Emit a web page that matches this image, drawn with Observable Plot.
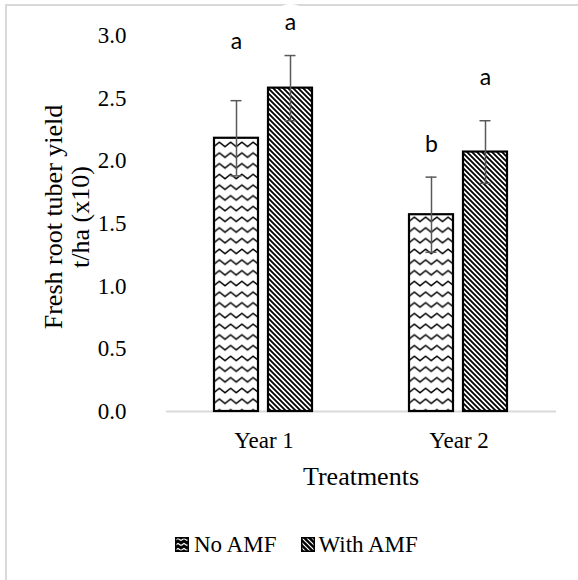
<!DOCTYPE html>
<html><head><meta charset="utf-8">
<script src="https://cdn.jsdelivr.net/npm/d3@7"></script>
<script src="https://cdn.jsdelivr.net/npm/@observablehq/plot@0.6"></script>
<style>
body{margin:0;background:#fff;}
#wrap{position:relative;width:578px;height:580px;overflow:hidden;font-family:"Liberation Serif","Times New Roman",serif;background:#fff;}
.bt{position:absolute;left:5px;top:4px;width:573px;height:2px;background:#d9d9d9;z-index:1;}
.bl{position:absolute;left:5px;top:4px;width:2px;height:576px;background:#d9d9d9;z-index:1;}
#chart{position:absolute;left:0;top:0;z-index:2;}
#legend{position:absolute;left:175px;top:533px;display:flex;align-items:center;font-family:"Liberation Serif",serif;font-size:23px;line-height:23px;color:#000;z-index:2;white-space:nowrap;}
#legend span{font-family:"Liberation Serif",serif;}
#legend svg{display:block;}
</style></head><body>
<svg width="0" height="0" style="position:absolute;left:0;top:0">
<defs>
<pattern id="wave" patternUnits="userSpaceOnUse" width="11.25" height="10.7">
<rect width="11.25" height="10.7" fill="#fff"/>
<path d="M-2.8,5.25L0,7.5L5.625,3L11.25,7.5L14,5.25" fill="none" stroke="#000" stroke-width="1.4"/>
</pattern>
<pattern id="diag" patternUnits="userSpaceOnUse" width="5" height="5">
<rect width="5" height="5" fill="#fff"/>
<path d="M-1,-1L6,6M-1,4L1,6M4,-1L6,1" stroke="#000" stroke-width="1.8"/>
</pattern>
<pattern id="waveS" patternUnits="userSpaceOnUse" width="6" height="5">
<rect width="6" height="5" fill="#000"/>
<path d="M0,3.5L3,1.5L6,3.5" fill="none" stroke="#fff" stroke-width="1.1"/>
</pattern>
<pattern id="diagS" patternUnits="userSpaceOnUse" width="5" height="5">
<rect width="5" height="5" fill="#000"/>
<path d="M-1,-1L6,6M-1,4L1,6M4,-1L6,1" stroke="#fff" stroke-width="1.2"/>
</pattern>
</defs></svg>
<div id="wrap">
<div class="bt"></div><div class="bl"></div>
<div id="chart"></div>
<div id="legend"></div>
</div>
<script>
// ---- data ----
const years = ["Year 1", "Year 2"];
const series = ["No AMF", "With AMF"];
const noAMF = [2.18, 1.57];
const withAMF = [2.58, 2.07];
const noAMFErr = [0.30, 0.30];
const withAMFErr = [0.26, 0.25];
const noAMFLetters = ["a", "b"];
const withAMFLetters = ["a", "a"];
const noAMFLetterY = [2.95, 2.13];
const withAMFLetterY = [3.105, 2.665];
const yTicks = [0, 0.5, 1, 1.5, 2, 2.5, 3];
const yTitle = ["Fresh root tuber yield", "t/ha (x10)"];
const xTitle = "Treatments";
const fills = {"No AMF": "url(#wave)", "With AMF": "url(#diag)"};
const legendFills = {"No AMF": "url(#waveS)", "With AMF": "url(#diagS)"};

const rows = [];
years.forEach((yr, i) => {
  rows.push({year: yr, series: series[0], value: noAMF[i], err: noAMFErr[i], letter: noAMFLetters[i], letterY: noAMFLetterY[i]});
  rows.push({year: yr, series: series[1], value: withAMF[i], err: withAMFErr[i], letter: withAMFLetters[i], letterY: withAMFLetterY[i]});
});

const errColor = "#595959";
const chart = Plot.plot({
  width: 578, height: 500,
  marginTop: 35, marginBottom: 89, marginLeft: 166, marginRight: 22,
  style: {fontFamily: "Liberation Serif", fontSize: "23px", color: "#000", background: "transparent", overflow: "visible"},
  fx: {domain: years, padding: 0, label: null},
  x: {domain: series, paddingInner: 0.18, paddingOuter: 0.863, axis: null, label: null},
  y: {domain: [0, 3], label: null},
  marks: [
    Plot.ruleY([0], {stroke: "#d9d9d9", strokeWidth: 2}),
    ...series.map(s => Plot.barY(rows.filter(d => d.series === s), {
      fx: "year", x: "series", y: "value", fill: fills[s], stroke: "#000", strokeWidth: 2.2
    })),
    Plot.ruleX(rows, {fx: "year", x: "series", y1: d => d.value - d.err, y2: d => d.value + d.err, stroke: errColor, strokeWidth: 1.5}),
    Plot.tickY(rows, {fx: "year", x: "series", y: d => d.value - d.err, stroke: errColor, strokeWidth: 1.5, insetLeft: 16.5, insetRight: 16.5}),
    Plot.tickY(rows, {fx: "year", x: "series", y: d => d.value + d.err, stroke: errColor, strokeWidth: 1.5, insetLeft: 16.5, insetRight: 16.5}),
    Plot.text(rows, {fx: "year", x: "series", y: "letterY", text: "letter", fontFamily: "Lato", fontSize: 23, fill: "#000", stroke: "white", strokeWidth: 28}),
    Plot.axisY({ticks: yTicks, tickFormat: d3.format(".1f"), tickSize: 0, tickPadding: 40, fontSize: 23, label: null}),
    Plot.axisFx({anchor: "bottom", tickSize: 0, tickPadding: 20, fontSize: 23, label: null})
  ]
});
document.getElementById("chart").appendChild(chart);

const svg = d3.select(chart);
const yTitleX = [62, 89];
yTitle.forEach((t, i) => {
  svg.append("text")
    .attr("transform", `translate(${yTitleX[i]},217) rotate(-90)`)
    .attr("text-anchor", "middle")
    .attr("font-family", "Liberation Serif")
    .attr("font-size", 26)
    .attr("fill", "#000")
    .text(t);
});
svg.append("text")
  .attr("x", 361).attr("y", 485)
  .attr("text-anchor", "middle")
  .attr("font-family", "Liberation Serif")
  .attr("font-size", 26)
  .attr("fill", "#000")
  .text(xTitle);

// legend
const legend = d3.select("#legend");
series.forEach((s, i) => {
  const sw = legend.append("svg").attr("width", 14).attr("height", 15)
    .style("margin-left", i === 0 ? "0px" : "25px");
  sw.append("rect").attr("x", 0.75).attr("y", 0.75).attr("width", 12.5).attr("height", 13.5)
    .attr("fill", legendFills[s]).attr("stroke", "#000").attr("stroke-width", 1.5);
  legend.append("span").style("margin-left", i === 0 ? "5px" : "3px").text(s);
});
</script>
</body></html>
